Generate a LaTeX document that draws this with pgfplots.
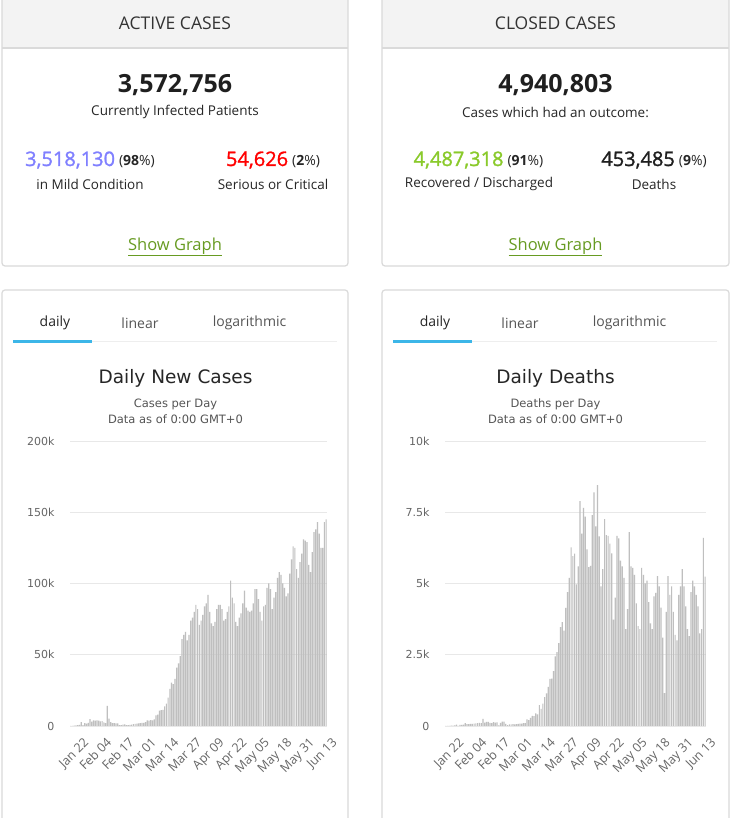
\documentclass[border=0pt]{standalone}
\usepackage{fontspec}
\setmainfont{Open Sans}
\newfontfamily\hc{DejaVu Sans}
\newfontface\semib{Open Sans}[FakeBold=1.3]
\usepackage{pgfplots}
\pgfplotsset{compat=1.18}
\usepackage{pgfplotstable}
\definecolor{bordergray}{HTML}{DADADA}
\definecolor{headerbg}{HTML}{F3F3F3}
\definecolor{mblue}{HTML}{8080FF}
\definecolor{mred}{HTML}{FF0000}
\definecolor{mgreen}{HTML}{8ACA2B}
\definecolor{linkgreen}{HTML}{679B22}
\definecolor{tabblue}{HTML}{3CB6E8}
\definecolor{tabline}{HTML}{EEEEEE}
\definecolor{gridgray}{HTML}{E8E8E8}
\definecolor{labgray}{HTML}{666666}
\definecolor{txtgray}{HTML}{555555}
\definecolor{barfill}{HTML}{BFBFBF}

\pgfplotstableread{
i cases deaths
0 0 0
1 99 1
2 287 8
3 493 16
4 684 14
5 809 26
6 2651 49
7 589 2
8 2068 38
9 1693 42
10 2111 46
11 4749 103
12 3094 64
13 4011 66
14 3743 73
15 3915 73
16 3721 86
17 3173 89
18 3419 97
19 2467 108
20 2015 97
21 14108 254
22 5090 121
23 2641 143
24 2054 142
25 1939 106
26 1866 98
27 1877 139
28 548 115
29 637 125
30 1021 25
31 1067 110
32 647 151
33 594 154
34 857 71
35 949 30
36 1323 56
37 1420 57
38 1656 64
39 1919 58
40 1932 67
41 2249 72
42 2251 84
43 2737 80
44 3985 101
45 3825 103
46 4067 229
47 4026 207
48 4651 285
49 7372 353
50 7979 349
51 10830 443
52 11077 409
53 11400 731
54 13807 600
55 15760 789
56 19900 1011
57 26000 1143
58 30400 1370
59 29400 1655
60 33000 1661
61 41000 1928
62 44000 2440
63 49000 2588
64 61000 2910
65 64000 3466
66 66000 3641
67 60000 3343
68 64000 4148
69 74000 4696
70 76000 5200
71 80000 6265
72 85000 5962
73 82000 6044
74 71000 4973
75 74000 5599
76 78000 7894
77 84000 6750
78 86000 7650
79 92000 7342
80 80000 6200
81 72000 5577
82 70000 5621
83 73000 7400
84 82000 8200
85 85000 7000
86 85000 8450
87 82000 6650
88 74000 4900
89 75000 5500
90 80000 7260
91 84000 6700
92 102000 6670
93 90000 6400
94 86000 6060
95 73000 3730
96 70000 4500
97 76000 6670
98 79000 6580
99 86000 5800
100 95000 5600
101 83000 5200
102 81000 3400
103 80000 4100
104 81000 6800
105 86000 5600
106 96000 5550
107 96000 5300
108 89000 4300
109 80000 3500
110 74000 3400
111 84000 5550
112 85000 5300
113 97000 5000
114 100000 5100
115 96000 4350
116 82000 3600
117 90000 3400
118 94000 4550
119 104000 4670
120 108000 5260
121 106000 4900
122 100000 4150
123 97000 3100
124 91000 1150
125 93000 4000
126 107000 5260
127 117000 4600
128 126000 4900
129 125000 4000
130 110000 3200
131 104000 3000
132 115000 4600
133 121000 4900
134 131000 5500
135 130000 4900
136 129000 4200
137 113000 3400
138 108000 3150
139 122000 4700
140 136000 5100
141 138000 4900
142 143000 4600
143 135000 4200
144 125000 3250
145 125000 3400
146 143000 6600
147 145000 5240
}\data

\pgfplotsset{
  dash/.style={
    scale only axis, anchor=south west,
    xmin=-0.5, xmax=147.5, ymin=0,
    axis line style={draw=none}, major tick length=0pt,
    ymajorgrids, grid style={gridgray, line width=0.9pt},
    xtick={0,13,...,143},
    xticklabels={Jan 22,Feb 04,Feb 17,Mar 01,Mar 14,Mar 27,Apr 09,Apr 22,May 05,May 18,May 31,Jun 13},
    xticklabel style={rotate=45, anchor=north east, font=\fontsize{12.5}{14}\selectfont, text=labgray, inner sep=0pt, xshift=1pt, yshift=-16pt},
    yticklabel style={font=\hc\fontsize{11}{12}\selectfont, text=labgray, xshift=-12pt},
    scaled y ticks=false, clip=false,
  },
  bars/.style={ybar, bar width=1.2pt, fill=barfill, draw=none},
}

\begin{document}
\begin{tikzpicture}
\begin{scope}[x=1pt,y=1pt]
\fill[white] (0,0) rectangle (730,818);
% ---------- top boxes ----------
\foreach \xa/\xb in {2/348, 382/729}{
  \fill[headerbg] (\xa,830) rectangle (\xb,770);
  \draw[bordergray, line width=1.2] (\xa,770) -- (\xb,770);
  \draw[bordergray, line width=1.2, rounded corners=3] (\xa,830) -- (\xa,552) -- (\xb,552) -- (\xb,830);
}
\node[font=\fontsize{17.5}{20}\selectfont, text=black!80] at (175,795) {ACTIVE CASES};
\node[font=\fontsize{17.5}{20}\selectfont, text=black!80] at (555.5,795) {CLOSED CASES};
\node[font=\bfseries\fontsize{25}{28}\selectfont, text=black!88] at (175,733) {3,572,756};
\node[font=\bfseries\fontsize{25}{28}\selectfont, text=black!88] at (555.5,733) {4,940,803};
\node[font=\fontsize{13.5}{16}\selectfont, text=black!85] at (175,706) {Currently Infected Patients};
\node[font=\fontsize{13.5}{16}\selectfont, text=black!85] at (555.5,706) {Cases which had an outcome:};
\node[anchor=base, inner sep=0] at (90,652) {{\semib\fontsize{20}{22}\selectfont\color{mblue}3,518,130}\hspace{4pt}{\fontsize{14}{16}\selectfont\color{black!85}(\textbf{98}\%)}};
\node[anchor=base, inner sep=0] at (273,652) {{\semib\fontsize{20}{22}\selectfont\color{mred}54,626}\hspace{4pt}{\fontsize{14}{16}\selectfont\color{black!85}(\textbf{2}\%)}};
\node[anchor=base, inner sep=0] at (478.5,652) {{\semib\fontsize{20}{22}\selectfont\color{mgreen}4,487,318}\hspace{4pt}{\fontsize{14}{16}\selectfont\color{black!85}(\textbf{91}\%)}};
\node[anchor=base, inner sep=0] at (654,652) {{\semib\fontsize{20}{22}\selectfont\color{black!88}453,485}\hspace{4pt}{\fontsize{14}{16}\selectfont\color{black!85}(\textbf{9}\%)}};
\node[font=\fontsize{13.5}{16}\selectfont, text=black!85] at (90,634) {in Mild Condition};
\node[font=\fontsize{13.5}{16}\selectfont, text=black!85] at (273,634) {Serious or Critical};
\node[font=\fontsize{13.5}{16}\selectfont, text=black!85] at (479,634) {Recovered / Discharged};
\node[font=\fontsize{13.5}{16}\selectfont, text=black!85] at (654,634) {Deaths};
\node[font=\fontsize{16.5}{18}\selectfont, text=linkgreen] at (175,571) {\underline{Show Graph}};
\node[font=\fontsize{16.5}{18}\selectfont, text=linkgreen] at (555.5,571) {\underline{Show Graph}};
% ---------- bottom panels ----------
\foreach \xa/\xb in {2/348, 382/729}{
  \draw[bordergray, line width=1.2, rounded corners=3] (\xa,-10) -- (\xa,528) -- (\xb,528) -- (\xb,-10);
}
\foreach \ox in {0, 380}{
  \begin{scope}[xshift=\ox]
  \node[font=\fontsize{14}{16}\selectfont, text=black!85] at (55,495) {daily};
  \node[font=\fontsize{14}{16}\selectfont, text=txtgray] at (140,495) {linear};
  \node[font=\fontsize{14}{16}\selectfont, text=txtgray] at (249.5,495) {logarithmic};
  \draw[tabline, line width=1] (92,476) -- (337,476);
  \draw[tabblue, line width=3] (13,476) -- (92,476);
  \end{scope}
}
\node[font=\hc\fontsize{18.5}{20}\selectfont, text=black!85] at (175.5,440) {Daily New Cases};
\node[font=\hc\fontsize{11.5}{13}\selectfont, text=txtgray] at (175.5,414) {Cases per Day};
\node[font=\hc\fontsize{11.5}{13}\selectfont, text=txtgray] at (175.5,399) {Data as of 0:00 GMT+0};
\node[font=\hc\fontsize{18.5}{20}\selectfont, text=black!85] at (555.5,440) {Daily Deaths};
\node[font=\hc\fontsize{11.5}{13}\selectfont, text=txtgray] at (555.5,414) {Deaths per Day};
\node[font=\hc\fontsize{11.5}{13}\selectfont, text=txtgray] at (555.5,399) {Data as of 0:00 GMT+0};
\end{scope}

\begin{axis}[dash, at={(70pt,92pt)}, width=257pt, height=285pt, ymax=200000,
  ytick={0,50000,100000,150000,200000}, yticklabels={0,50k,100k,150k,200k}]
\addplot[bars] table[x=i, y=cases] {\data};
\end{axis}

\begin{axis}[dash, at={(445pt,92pt)}, width=261pt, height=285pt, ymax=10000,
  ytick={0,2500,5000,7500,10000}, yticklabels={0,2.5k,5k,7.5k,10k}]
\addplot[bars] table[x=i, y=deaths] {\data};
\end{axis}

\pgfresetboundingbox
\path[use as bounding box] (0,0) rectangle (730pt,818pt);
\end{tikzpicture}
\end{document}
